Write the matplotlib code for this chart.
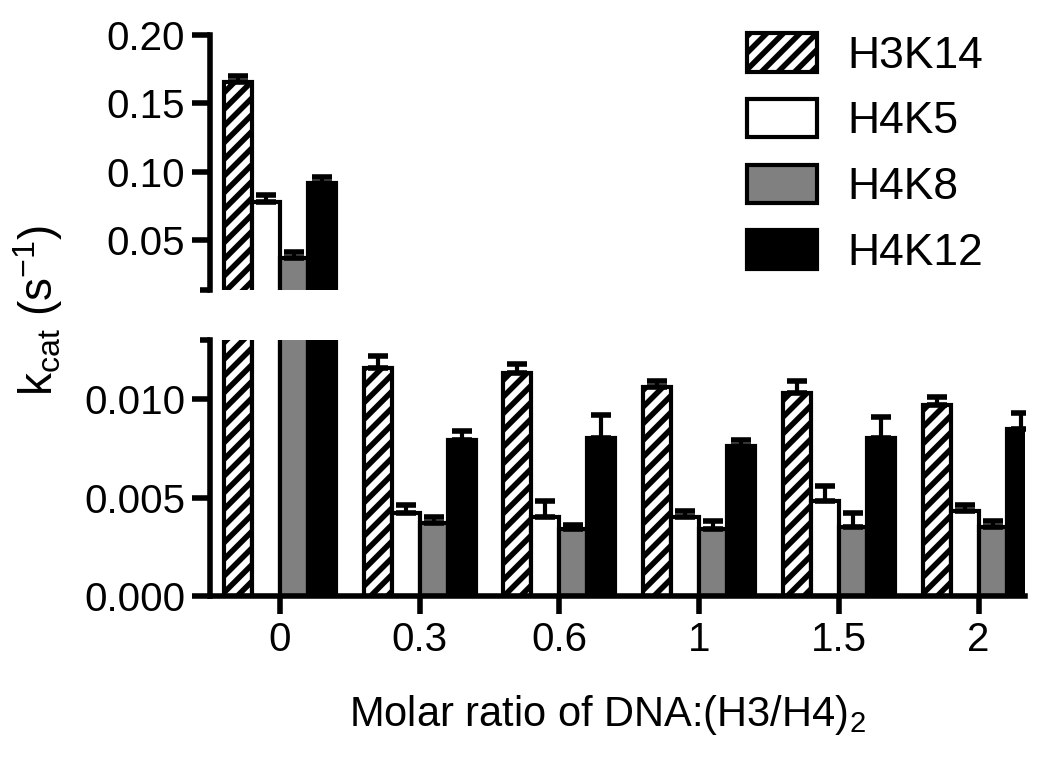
import matplotlib
matplotlib.use("Agg")
import matplotlib.pyplot as plt
import numpy as np

plt.rcParams['font.family'] = ['Liberation Sans', 'DejaVu Sans']
plt.rcParams['mathtext.default'] = 'regular'
plt.rcParams['hatch.linewidth'] = 4

# data
ratios = ["0", "0.3", "0.6", "1", "1.5", "2"]
sites = ["H3K14", "H4K5", "H4K8", "H4K12"]
h3k14 = [0.166, 0.0116, 0.0113, 0.0106, 0.0103, 0.0097]
h4k5 = [0.078, 0.0042, 0.0040, 0.0040, 0.0048, 0.0043]
h4k8 = [0.037, 0.0037, 0.0034, 0.0034, 0.0035, 0.0035]
h4k12 = [0.092, 0.0079, 0.0080, 0.0076, 0.0080, 0.0085]
h3k14_err = [0.004, 0.0006, 0.0005, 0.0003, 0.0006, 0.0004]
h4k5_err = [0.005, 0.0004, 0.0008, 0.0003, 0.0008, 0.0003]
h4k8_err = [0.004, 0.0003, 0.0002, 0.0004, 0.0007, 0.0003]
h4k12_err = [0.004, 0.0005, 0.0012, 0.0003, 0.0011, 0.0008]

values = [h3k14, h4k5, h4k8, h4k12]
errors = [h3k14_err, h4k5_err, h4k8_err, h4k12_err]
faces = ["white", "white", "#808080", "black"]
hatches = ["//", None, None, None]

fig = plt.figure(figsize=(10.5, 7.58), dpi=100)
ax_top = fig.add_axes([0.2, 0.6174, 0.776, 0.3364])
ax_bot = fig.add_axes([0.2, 0.2137, 0.776, 0.3378])
top_lo = 0.0135
ax_top.set_ylim(top_lo, 0.20)
ax_bot.set_ylim(0, 0.013)

x = np.arange(len(ratios))
width = 0.2
offsets = [-0.3, -0.1, 0.1, 0.3]

for ax in (ax_top, ax_bot):
    lo = ax.get_ylim()[0]
    for i in range(4):
        v = np.array(values[i])
        err = np.array(errors[i])
        ax.bar(x + offsets[i], v, width, color=faces[i],
               edgecolor="black", linewidth=3, hatch=hatches[i],
               label=sites[i], zorder=2)
        keep = v > lo  # no stray caps under the break
        ax.errorbar((x + offsets[i])[keep], v[keep],
                    yerr=[np.zeros(keep.sum()), err[keep]], fmt="none",
                    ecolor="black", elinewidth=3, capsize=7, capthick=4,
                    zorder=3)
    ax.set_xlim(-0.5, 5.33)
    for s in ("right", "top"):
        ax.spines[s].set_visible(False)
    ax.spines["left"].set_linewidth(4)
    ax.spines["bottom"].set_linewidth(4)
    ax.tick_params(axis="both", width=4, length=13, labelsize=29, pad=5)
    ax.tick_params(which="minor", width=4, length=7)

ax_top.set_yticks([0.05, 0.10, 0.15, 0.20])
ax_top.set_yticklabels(["0.05", "0.10", "0.15", "0.20"])
ax_top.set_yticks([top_lo], minor=True)
ax_top.spines["bottom"].set_visible(False)
ax_top.set_xticks([])

ax_bot.set_yticks([0.0, 0.005, 0.010])
ax_bot.set_yticklabels(["0.000", "0.005", "0.010"])
ax_bot.set_yticks([0.013], minor=True)
ax_bot.set_xticks(x)
ax_bot.set_xticklabels(ratios)

fig.text(0.036, 0.59, r"k$_{cat}$ (s$^{-1}$)", rotation=90,
         ha="center", va="center", fontsize=33)
fig.text(0.578, 0.057, r"Molar ratio of DNA:(H3/H4)$_2$",
         ha="center", va="center", fontsize=30)

ax_top.legend(loc="upper left", bbox_to_anchor=(0.711, 0.956),
              bbox_transform=fig.transFigure, frameon=False, fontsize=32,
              borderpad=0, borderaxespad=0,
              handlelength=1.58, handleheight=0.95, handletextpad=0.68,
              labelspacing=0.5)

fig.savefig("out.png", dpi=100)
